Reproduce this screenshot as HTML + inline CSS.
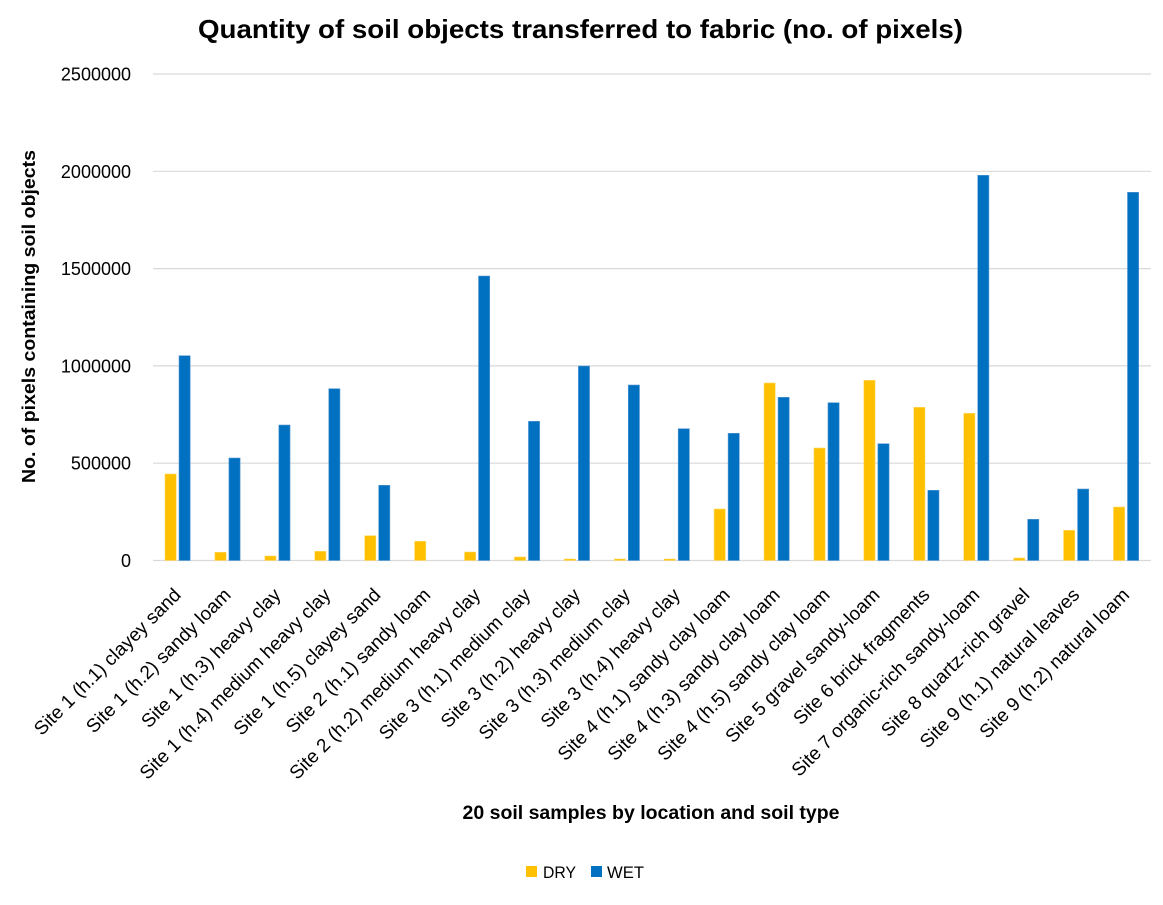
<!DOCTYPE html>
<html>
<head>
<meta charset="utf-8">
<style>
  html, body { margin: 0; padding: 0; background: #ffffff; }
  svg { display: block; }
  text { font-family: "Liberation Sans", Arial, sans-serif; fill: #000; }
</style>
</head>
<body>
<svg width="1163" height="905" viewBox="0 0 1163 905" xmlns="http://www.w3.org/2000/svg">
  <rect x="0" y="0" width="1163" height="905" fill="#ffffff"/>

  <!-- Title -->
  <text x="198" y="38" font-size="26" font-weight="bold" textLength="765" lengthAdjust="spacingAndGlyphs">Quantity of soil objects transferred to fabric (no. of pixels)</text>

  <!-- Gridlines -->
  <g stroke="#D9D9D9" stroke-width="1.2">
    <line x1="153" y1="74" x2="1151" y2="74"/>
    <line x1="153" y1="171.3" x2="1151" y2="171.3"/>
    <line x1="153" y1="268.6" x2="1151" y2="268.6"/>
    <line x1="153" y1="365.9" x2="1151" y2="365.9"/>
    <line x1="153" y1="463.2" x2="1151" y2="463.2"/>
    <line x1="153" y1="560.5" x2="1151" y2="560.5"/>
  </g>

  <!-- Y tick labels -->
  <g font-size="18" text-anchor="end">
    <text x="131" y="80.5">2500000</text>
    <text x="131" y="177.8">2000000</text>
    <text x="131" y="275.1">1500000</text>
    <text x="131" y="372.4">1000000</text>
    <text x="131" y="469.7">500000</text>
    <text x="131" y="567">0</text>
  </g>

  <!-- Y axis title -->
  <text transform="translate(35,316.5) rotate(-90)" text-anchor="middle" font-size="18" font-weight="bold" textLength="333" lengthAdjust="spacingAndGlyphs">No. of pixels containing soil objects</text>

  <!-- DRY bars -->
  <g fill="#FFC000" stroke="#FFD966" stroke-width="0.6">
    <rect x="165" y="474" width="11.2" height="86.5"/>
    <rect x="214.92" y="552.3" width="11.2" height="8.2"/>
    <rect x="264.84" y="556" width="11.2" height="4.5"/>
    <rect x="314.76" y="551.3" width="11.2" height="9.2"/>
    <rect x="364.68" y="535.7" width="11.2" height="24.8"/>
    <rect x="414.6" y="541.3" width="11.2" height="19.2"/>
    <rect x="464.52" y="552" width="11.2" height="8.5"/>
    <rect x="514.44" y="557" width="11.2" height="3.5"/>
    <rect x="564.36" y="559" width="11.2" height="1.5"/>
    <rect x="614.28" y="559" width="11.2" height="1.5"/>
    <rect x="664.2" y="559" width="11.2" height="1.5"/>
    <rect x="714.12" y="509" width="11.2" height="51.5"/>
    <rect x="764.04" y="383" width="11.2" height="177.5"/>
    <rect x="813.96" y="448" width="11.2" height="112.5"/>
    <rect x="863.88" y="380.3" width="11.2" height="180.2"/>
    <rect x="913.8" y="407.3" width="11.2" height="153.2"/>
    <rect x="963.72" y="413.3" width="11.2" height="147.2"/>
    <rect x="1013.64" y="558" width="11.2" height="2.5"/>
    <rect x="1063.56" y="530.3" width="11.2" height="30.2"/>
    <rect x="1113.48" y="507" width="11.2" height="53.5"/>
  </g>

  <!-- WET bars -->
  <g fill="#0070C0" stroke="#5B9BD5" stroke-width="0.6">
    <rect x="179" y="355.7" width="11.2" height="204.8"/>
    <rect x="228.92" y="458" width="11.2" height="102.5"/>
    <rect x="278.84" y="425" width="11.2" height="135.5"/>
    <rect x="328.76" y="388.7" width="11.2" height="171.8"/>
    <rect x="378.68" y="485.3" width="11.2" height="75.2"/>
    <rect x="478.52" y="276" width="11.2" height="284.5"/>
    <rect x="528.44" y="421.3" width="11.2" height="139.2"/>
    <rect x="578.36" y="366" width="11.2" height="194.5"/>
    <rect x="628.28" y="385" width="11.2" height="175.5"/>
    <rect x="678.2" y="428.7" width="11.2" height="131.8"/>
    <rect x="728.12" y="433.3" width="11.2" height="127.2"/>
    <rect x="778.04" y="397.3" width="11.2" height="163.2"/>
    <rect x="827.96" y="402.7" width="11.2" height="157.8"/>
    <rect x="877.88" y="443.7" width="11.2" height="116.8"/>
    <rect x="927.8" y="490.3" width="11.2" height="70.2"/>
    <rect x="977.72" y="175.3" width="11.2" height="385.2"/>
    <rect x="1027.64" y="519.3" width="11.2" height="41.2"/>
    <rect x="1077.56" y="489" width="11.2" height="71.5"/>
    <rect x="1127.48" y="192.3" width="11.2" height="368.2"/>
  </g>

  <!-- Category labels -->
  <g font-size="19" text-anchor="end">
    <text transform="translate(182,596) rotate(-45)">Site 1 (h.1) clayey sand</text>
    <text transform="translate(231.92,596) rotate(-45)">Site 1 (h.2) sandy loam</text>
    <text transform="translate(281.84,596) rotate(-45)">Site 1 (h.3) heavy clay</text>
    <text transform="translate(331.76,596) rotate(-45)">Site 1 (h.4) medium heavy clay</text>
    <text transform="translate(381.68,596) rotate(-45)">Site 1 (h.5) clayey sand</text>
    <text transform="translate(431.6,596) rotate(-45)">Site 2 (h.1) sandy loam</text>
    <text transform="translate(481.52,596) rotate(-45)">Site 2 (h.2) medium heavy clay</text>
    <text transform="translate(531.44,596) rotate(-45)">Site 3 (h.1) medium clay</text>
    <text transform="translate(581.36,596) rotate(-45)">Site 3 (h.2) heavy clay</text>
    <text transform="translate(631.28,596) rotate(-45)">Site 3 (h.3) medium clay</text>
    <text transform="translate(681.2,596) rotate(-45)">Site 3 (h.4) heavy clay</text>
    <text transform="translate(731.12,596) rotate(-45)">Site 4 (h.1) sandy clay loam</text>
    <text transform="translate(781.04,596) rotate(-45)">Site 4 (h.3) sandy clay loam</text>
    <text transform="translate(830.96,596) rotate(-45)">Site 4 (h.5) sandy clay loam</text>
    <text transform="translate(880.88,596) rotate(-45)">Site 5 gravel sandy-loam</text>
    <text transform="translate(930.8,596) rotate(-45)">Site 6 brick fragments</text>
    <text transform="translate(980.72,596) rotate(-45)">Site 7 organic-rich sandy-loam</text>
    <text transform="translate(1030.64,596) rotate(-45)">Site 8 quartz-rich gravel</text>
    <text transform="translate(1080.56,596) rotate(-45)">Site 9 (h.1) natural leaves</text>
    <text transform="translate(1130.48,596) rotate(-45)">Site 9 (h.2) natural loam</text>
  </g>

  <!-- X axis title -->
  <text x="651" y="819" text-anchor="middle" font-size="19" font-weight="bold" textLength="377" lengthAdjust="spacingAndGlyphs">20 soil samples by location and soil type</text>

  <!-- Legend -->
  <rect x="526" y="866" width="11" height="11" fill="#FFC000"/>
  <text x="543" y="878" font-size="16.5" textLength="33" lengthAdjust="spacingAndGlyphs">DRY</text>
  <rect x="591" y="866" width="11" height="11" fill="#0070C0"/>
  <text x="607" y="878" font-size="16.5" textLength="37" lengthAdjust="spacingAndGlyphs">WET</text>
</svg>
</body>
</html>
